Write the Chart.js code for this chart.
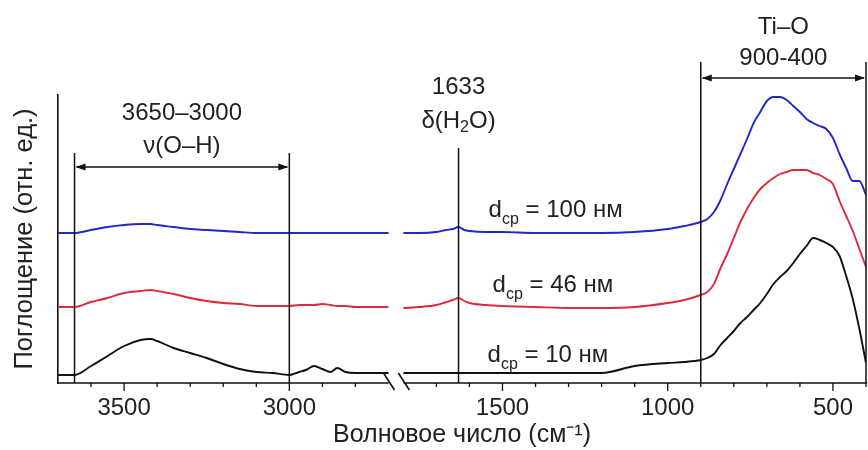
<!DOCTYPE html>
<html>
<head>
<meta charset="utf-8">
<script src="https://cdn.jsdelivr.net/npm/chart.js@4.4.1/dist/chart.umd.min.js"></script>
<style>
  html, body { margin: 0; padding: 0; background: #fff; }
  #wrap { width: 868px; height: 450px; }
</style>
</head>
<body>
<div id="wrap"><canvas id="irChart" width="868" height="450"></canvas></div>
<script>
// wavenumbers (cm-1); the axis is broken between 2700 and 1800
var wnHigh = [3700, 3650, 3600, 3550, 3500, 3450, 3420, 3400, 3350, 3300, 3250, 3200, 3150,
              3100, 3050, 3000, 2970, 2950, 2925, 2900, 2875, 2855, 2830, 2800, 2750, 2700];
var wnLow = [1800, 1750, 1700, 1670, 1650, 1633, 1615, 1600, 1550, 1500, 1400, 1300, 1200, 1100,
             1000, 950, 900, 880, 860, 840, 820, 800, 780, 760, 740, 720, 700, 680, 660, 640,
             620, 600, 580, 560, 540, 520, 500, 480, 460, 440, 420, 400];

// absorbance, rel. units (curves are offset)
var abs100High = [1.50, 1.50, 1.53, 1.56, 1.58, 1.59, 1.59, 1.58, 1.56, 1.54, 1.53, 1.52, 1.51,
                  1.50, 1.50, 1.50, 1.50, 1.50, 1.50, 1.50, 1.50, 1.50, 1.50, 1.50, 1.50, 1.50];
var abs46High = [0.76, 0.76, 0.81, 0.85, 0.90, 0.92, 0.93, 0.92, 0.89, 0.85, 0.82, 0.80, 0.79,
                 0.77, 0.77, 0.77, 0.78, 0.78, 0.78, 0.79, 0.78, 0.77, 0.77, 0.76, 0.76, 0.76];
var abs10High = [0.08, 0.08, 0.17, 0.27, 0.37, 0.43, 0.44, 0.42, 0.35, 0.30, 0.25, 0.19, 0.14,
                 0.11, 0.10, 0.08, 0.11, 0.13, 0.17, 0.14, 0.11, 0.15, 0.11, 0.10, 0.10, 0.10];

var abs100Low = [1.50, 1.50, 1.51, 1.53, 1.54, 1.56, 1.53, 1.52, 1.51, 1.51, 1.50, 1.50, 1.50, 1.51,
                 1.54, 1.57, 1.61, 1.64, 1.71, 1.83, 1.99, 2.14, 2.29, 2.44, 2.60, 2.71, 2.82, 2.86,
                 2.86, 2.83, 2.77, 2.71, 2.64, 2.60, 2.57, 2.54, 2.45, 2.29, 2.15, 2.02, 2.02, 1.88];
var abs46Low = [0.75, 0.76, 0.78, 0.81, 0.83, 0.85, 0.82, 0.80, 0.78, 0.77, 0.76, 0.75, 0.75, 0.76,
                0.80, 0.83, 0.88, 0.91, 0.99, 1.15, 1.29, 1.45, 1.61, 1.74, 1.85, 1.94, 2.00, 2.05,
                2.09, 2.11, 2.13, 2.13, 2.13, 2.10, 2.08, 2.04, 1.99, 1.82, 1.67, 1.52, 1.34, 1.16];
var abs10Low = [0.10, 0.10, 0.10, 0.10, 0.10, 0.10, 0.10, 0.10, 0.10, 0.10, 0.10, 0.10, 0.10, 0.17,
                0.20, 0.21, 0.23, 0.25, 0.29, 0.38, 0.45, 0.52, 0.60, 0.66, 0.73, 0.80, 0.89, 0.99,
                1.06, 1.12, 1.20, 1.29, 1.37, 1.45, 1.43, 1.40, 1.36, 1.27, 1.07, 0.84, 0.54, 0.20];

var tickMajor = [3500, 3000, 1500, 1000, 500];
var tickMinor = [3600, 3400, 3300, 3200, 3100, 2900, 2800,
                 1700, 1600, 1400, 1300, 1200, 1100, 900, 800, 700, 600, 400];

// axis break: 3700..2700 | gap | 1800..400
var W_START = 3700, BREAK_HI = 2700, BREAK_LO = 1800, W_END = 400, GAP = 45;
function toU(w) {
  if (w >= BREAK_HI) return W_START - w;
  return (W_START - BREAK_HI) + GAP + (BREAK_LO - w);
}

function series(hi, lo) {
  var pts = wnHigh.map(function (w, i) { return {x: toU(w), y: hi[i]}; });
  pts.push({x: toU(BREAK_HI) + GAP / 2, y: null});
  return pts.concat(wnLow.map(function (w, i) { return {x: toU(w), y: lo[i]}; }));
}

var FONT = '"Liberation Sans", Arial, sans-serif';
var TXT = '#222';

function arrowHead(ctx, x, y, dir) {
  ctx.beginPath();
  ctx.moveTo(x, y);
  ctx.lineTo(x + dir * 10, y - 3.5);
  ctx.lineTo(x + dir * 10, y + 3.5);
  ctx.closePath();
  ctx.fill();
}

function subText(ctx, parts, x, y, align) {
  // parts: [text, isSub]
  var w = 0, i;
  for (i = 0; i < parts.length; i++) {
    ctx.font = (parts[i][1] ? '16px ' : '24px ') + FONT;
    w += ctx.measureText(parts[i][0]).width;
  }
  var cx = align === 'center' ? x - w / 2 : x;
  ctx.textAlign = 'left';
  for (i = 0; i < parts.length; i++) {
    ctx.font = (parts[i][1] ? '16px ' : '24px ') + FONT;
    ctx.fillText(parts[i][0], cx, parts[i][1] ? y + 7 : y);
    cx += ctx.measureText(parts[i][0]).width;
  }
}

var irDecor = {
  id: 'irDecor',
  afterDatasetsDraw: function (chart) {
    var ctx = chart.ctx, xs = chart.scales.x, ys = chart.scales.y;
    var px = function (w) { return xs.getPixelForValue(toU(w)); };
    var py = function (v) { return ys.getPixelForValue(v); };
    var base = py(0);
    ctx.save();
    ctx.strokeStyle = '#111';
    ctx.fillStyle = '#111';
    ctx.lineWidth = 1.6;

    // broken x axis line + break marks
    ctx.beginPath();
    ctx.moveTo(px(W_START), base); ctx.lineTo(px(BREAK_HI), base);
    ctx.moveTo(px(BREAK_LO), base); ctx.lineTo(px(W_END) + 1, base);
    [BREAK_HI, BREAK_LO].forEach(function (w) {
      ctx.moveTo(px(w) - 5, base - 10); ctx.lineTo(px(w) + 6, base + 7);
    });
    ctx.stroke();

    // tick marks
    ctx.lineWidth = 1.3;
    ctx.beginPath();
    tickMajor.forEach(function (w) { ctx.moveTo(px(w), base); ctx.lineTo(px(w), base + 8); });
    tickMinor.forEach(function (w) { ctx.moveTo(px(w), base); ctx.lineTo(px(w), base + 4); });
    ctx.stroke();

    // band markers
    ctx.lineWidth = 1.5;
    ctx.beginPath();
    [[3650, 2.30], [3000, 2.30], [1633, 2.35], [900, 3.21], [400, 3.21]].forEach(function (m) {
      ctx.moveTo(px(m[0]), py(m[1])); ctx.lineTo(px(m[0]), base);
    });
    [[3650, 3000, 2.16], [900, 400, 3.05]].forEach(function (a) {
      ctx.moveTo(px(a[0]) + 2, py(a[2])); ctx.lineTo(px(a[1]) - 2, py(a[2]));
    });
    ctx.stroke();
    [[3650, 3000, 2.16], [900, 400, 3.05]].forEach(function (a) {
      arrowHead(ctx, px(a[0]) + 1, py(a[2]), 1);
      arrowHead(ctx, px(a[1]) - 1, py(a[2]), -1);
    });

    // band captions
    ctx.fillStyle = TXT;
    ctx.textAlign = 'center';
    ctx.textBaseline = 'middle';
    ctx.font = '24px ' + FONT;
    var midOH = (px(3650) + px(3000)) / 2, midTi = (px(900) + px(400)) / 2;
    ctx.fillText('3650\u20133000', midOH, py(2.70));
    ctx.fillText('\u03bd(O\u2013H)', midOH, py(2.37));
    ctx.fillText('1633', px(1633), py(2.96));
    subText(ctx, [['\u03b4(H', false], ['2', true], ['O)', false]], px(1633), py(2.62), 'center');
    ctx.font = '24px ' + FONT;
    ctx.textAlign = 'center';
    ctx.fillText('Ti\u2013O', midTi, py(3.56));
    ctx.fillText('900-400', midTi, py(3.25));

    // curve labels
    ctx.textBaseline = 'alphabetic';
    subText(ctx, [['d', false], ['\u0441\u0440', true], [' = 100 \u043d\u043c', false]], px(1542), py(1.66), 'left');
    subText(ctx, [['d', false], ['\u0441\u0440', true], [' = 46 \u043d\u043c', false]], px(1530), py(0.91), 'left');
    subText(ctx, [['d', false], ['\u0441\u0440', true], [' = 10 \u043d\u043c', false]], px(1545), py(0.21), 'left');
    ctx.restore();
  }
};

var ctx = document.getElementById('irChart').getContext('2d');
var chart = new Chart(ctx, {
  type: 'line',
  data: {
    datasets: [
      {label: 'd = 100 nm', data: series(abs100High, abs100Low), borderColor: '#2327c4'},
      {label: 'd = 46 nm', data: series(abs46High, abs46Low), borderColor: '#dc2b3b'},
      {label: 'd = 10 nm', data: series(abs10High, abs10Low), borderColor: '#111111'}
    ]
  },
  options: {
    responsive: false,
    animation: false,
    devicePixelRatio: 1,
    spanGaps: false,
    datasets: {
      line: {borderWidth: 1.9, pointRadius: 0, cubicInterpolationMode: 'monotone', fill: false}
    },
    layout: {padding: {left: 0, right: 2, top: 95, bottom: 0}},
    plugins: {legend: {display: false}, tooltip: {enabled: false}},
    scales: {
      x: {
        type: 'linear',
        min: 0,
        max: toU(W_END),
        afterBuildTicks: function (scale) {
          scale.ticks = tickMajor.map(function (w) { return {value: toU(w), wn: w}; });
        },
        afterFit: function (scale) { scale.height = 67; },
        border: {display: false},
        grid: {display: true, drawOnChartArea: false, drawTicks: true, tickLength: 8, color: 'rgba(0,0,0,0)'},
        ticks: {
          autoSkip: false, maxRotation: 0, padding: 3, color: TXT,
          font: {family: FONT, size: 24},
          callback: function (v, i, ticks) { return String(ticks[i].wn); }
        },
        title: {
          display: true, text: '\u0412\u043e\u043b\u043d\u043e\u0432\u043e\u0435 \u0447\u0438\u0441\u043b\u043e (\u0441\u043c\u207b\u00b9)',
          color: TXT, font: {family: FONT, size: 25}, padding: {top: 0, bottom: 0}
        }
      },
      y: {
        min: 0,
        max: 2.88,
        afterFit: function (scale) { scale.width = 58; },
        border: {display: true, color: '#111', width: 1.6},
        grid: {display: false},
        ticks: {display: false},
        title: {
          display: true, text: '\u041f\u043e\u0433\u043b\u043e\u0449\u0435\u043d\u0438\u0435 (\u043e\u0442\u043d. \u0435\u0434.)',
          color: TXT, font: {family: FONT, size: 25.5}, padding: {top: 10, bottom: 0}
        }
      }
    }
  },
  plugins: [irDecor]
});
</script>
</body>
</html>
